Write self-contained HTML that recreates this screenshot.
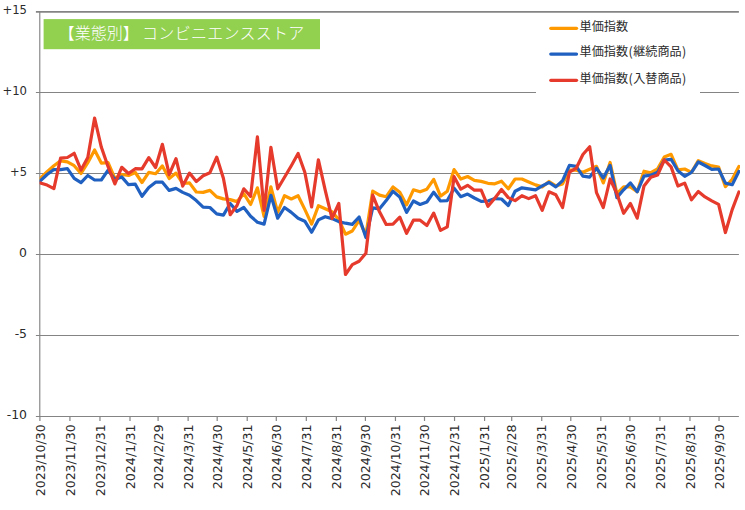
<!DOCTYPE html>
<html lang="ja"><head><meta charset="utf-8"><title>chart</title>
<style>html,body{margin:0;padding:0;background:#fff}svg{display:block}</style></head>
<body>
<svg width="745" height="510" viewBox="0 0 745 510">
<rect width="745" height="510" fill="#ffffff"/>
<line x1="35.9" y1="11.95" x2="738.9" y2="11.95" stroke="#848484" stroke-width="1.8"/>
<line x1="35.9" y1="92.55" x2="738.9" y2="92.55" stroke="#848484" stroke-width="1.05"/>
<line x1="35.9" y1="173.50" x2="738.9" y2="173.50" stroke="#848484" stroke-width="1.05"/>
<line x1="35.9" y1="254.50" x2="738.9" y2="254.50" stroke="#848484" stroke-width="1.05"/>
<line x1="35.9" y1="335.50" x2="738.9" y2="335.50" stroke="#848484" stroke-width="1.05"/>
<line x1="35.9" y1="416.50" x2="738.9" y2="416.50" stroke="#848484" stroke-width="1.05"/>
<line x1="39.78" y1="11.95" x2="39.78" y2="416.5" stroke="#848484" stroke-width="1.15"/>
<line x1="39.90" y1="416.5" x2="39.90" y2="421.0" stroke="#848484" stroke-width="1.2"/>
<text transform="translate(44.60,424.40) rotate(-90)" text-anchor="end" font-family='"DejaVu Sans","Liberation Sans",sans-serif' font-size="13" fill="#2b2b2b" textLength="71.8" lengthAdjust="spacingAndGlyphs">2023/10/30</text>
<line x1="69.93" y1="416.5" x2="69.93" y2="421.0" stroke="#848484" stroke-width="1.2"/>
<text transform="translate(74.63,424.40) rotate(-90)" text-anchor="end" font-family='"DejaVu Sans","Liberation Sans",sans-serif' font-size="13" fill="#2b2b2b" textLength="71.8" lengthAdjust="spacingAndGlyphs">2023/11/30</text>
<line x1="99.97" y1="416.5" x2="99.97" y2="421.0" stroke="#848484" stroke-width="1.2"/>
<text transform="translate(104.67,424.40) rotate(-90)" text-anchor="end" font-family='"DejaVu Sans","Liberation Sans",sans-serif' font-size="13" fill="#2b2b2b" textLength="71.8" lengthAdjust="spacingAndGlyphs">2023/12/31</text>
<line x1="130.00" y1="416.5" x2="130.00" y2="421.0" stroke="#848484" stroke-width="1.2"/>
<text transform="translate(134.70,424.40) rotate(-90)" text-anchor="end" font-family='"DejaVu Sans","Liberation Sans",sans-serif' font-size="13" fill="#2b2b2b" textLength="64.9" lengthAdjust="spacingAndGlyphs">2024/1/31</text>
<line x1="158.09" y1="416.5" x2="158.09" y2="421.0" stroke="#848484" stroke-width="1.2"/>
<text transform="translate(162.79,424.40) rotate(-90)" text-anchor="end" font-family='"DejaVu Sans","Liberation Sans",sans-serif' font-size="13" fill="#2b2b2b" textLength="64.9" lengthAdjust="spacingAndGlyphs">2024/2/29</text>
<line x1="188.13" y1="416.5" x2="188.13" y2="421.0" stroke="#848484" stroke-width="1.2"/>
<text transform="translate(192.83,424.40) rotate(-90)" text-anchor="end" font-family='"DejaVu Sans","Liberation Sans",sans-serif' font-size="13" fill="#2b2b2b" textLength="64.9" lengthAdjust="spacingAndGlyphs">2024/3/31</text>
<line x1="217.19" y1="416.5" x2="217.19" y2="421.0" stroke="#848484" stroke-width="1.2"/>
<text transform="translate(221.89,424.40) rotate(-90)" text-anchor="end" font-family='"DejaVu Sans","Liberation Sans",sans-serif' font-size="13" fill="#2b2b2b" textLength="64.9" lengthAdjust="spacingAndGlyphs">2024/4/30</text>
<line x1="247.22" y1="416.5" x2="247.22" y2="421.0" stroke="#848484" stroke-width="1.2"/>
<text transform="translate(251.92,424.40) rotate(-90)" text-anchor="end" font-family='"DejaVu Sans","Liberation Sans",sans-serif' font-size="13" fill="#2b2b2b" textLength="64.9" lengthAdjust="spacingAndGlyphs">2024/5/31</text>
<line x1="276.29" y1="416.5" x2="276.29" y2="421.0" stroke="#848484" stroke-width="1.2"/>
<text transform="translate(280.99,424.40) rotate(-90)" text-anchor="end" font-family='"DejaVu Sans","Liberation Sans",sans-serif' font-size="13" fill="#2b2b2b" textLength="64.9" lengthAdjust="spacingAndGlyphs">2024/6/30</text>
<line x1="306.32" y1="416.5" x2="306.32" y2="421.0" stroke="#848484" stroke-width="1.2"/>
<text transform="translate(311.02,424.40) rotate(-90)" text-anchor="end" font-family='"DejaVu Sans","Liberation Sans",sans-serif' font-size="13" fill="#2b2b2b" textLength="64.9" lengthAdjust="spacingAndGlyphs">2024/7/31</text>
<line x1="336.35" y1="416.5" x2="336.35" y2="421.0" stroke="#848484" stroke-width="1.2"/>
<text transform="translate(341.05,424.40) rotate(-90)" text-anchor="end" font-family='"DejaVu Sans","Liberation Sans",sans-serif' font-size="13" fill="#2b2b2b" textLength="64.9" lengthAdjust="spacingAndGlyphs">2024/8/31</text>
<line x1="365.42" y1="416.5" x2="365.42" y2="421.0" stroke="#848484" stroke-width="1.2"/>
<text transform="translate(370.12,424.40) rotate(-90)" text-anchor="end" font-family='"DejaVu Sans","Liberation Sans",sans-serif' font-size="13" fill="#2b2b2b" textLength="64.9" lengthAdjust="spacingAndGlyphs">2024/9/30</text>
<line x1="395.45" y1="416.5" x2="395.45" y2="421.0" stroke="#848484" stroke-width="1.2"/>
<text transform="translate(400.15,424.40) rotate(-90)" text-anchor="end" font-family='"DejaVu Sans","Liberation Sans",sans-serif' font-size="13" fill="#2b2b2b" textLength="71.8" lengthAdjust="spacingAndGlyphs">2024/10/31</text>
<line x1="424.51" y1="416.5" x2="424.51" y2="421.0" stroke="#848484" stroke-width="1.2"/>
<text transform="translate(429.21,424.40) rotate(-90)" text-anchor="end" font-family='"DejaVu Sans","Liberation Sans",sans-serif' font-size="13" fill="#2b2b2b" textLength="71.8" lengthAdjust="spacingAndGlyphs">2024/11/30</text>
<line x1="454.55" y1="416.5" x2="454.55" y2="421.0" stroke="#848484" stroke-width="1.2"/>
<text transform="translate(459.25,424.40) rotate(-90)" text-anchor="end" font-family='"DejaVu Sans","Liberation Sans",sans-serif' font-size="13" fill="#2b2b2b" textLength="71.8" lengthAdjust="spacingAndGlyphs">2024/12/31</text>
<line x1="484.58" y1="416.5" x2="484.58" y2="421.0" stroke="#848484" stroke-width="1.2"/>
<text transform="translate(489.28,424.40) rotate(-90)" text-anchor="end" font-family='"DejaVu Sans","Liberation Sans",sans-serif' font-size="13" fill="#2b2b2b" textLength="64.9" lengthAdjust="spacingAndGlyphs">2025/1/31</text>
<line x1="511.71" y1="416.5" x2="511.71" y2="421.0" stroke="#848484" stroke-width="1.2"/>
<text transform="translate(516.41,424.40) rotate(-90)" text-anchor="end" font-family='"DejaVu Sans","Liberation Sans",sans-serif' font-size="13" fill="#2b2b2b" textLength="64.9" lengthAdjust="spacingAndGlyphs">2025/2/28</text>
<line x1="541.74" y1="416.5" x2="541.74" y2="421.0" stroke="#848484" stroke-width="1.2"/>
<text transform="translate(546.44,424.40) rotate(-90)" text-anchor="end" font-family='"DejaVu Sans","Liberation Sans",sans-serif' font-size="13" fill="#2b2b2b" textLength="64.9" lengthAdjust="spacingAndGlyphs">2025/3/31</text>
<line x1="570.80" y1="416.5" x2="570.80" y2="421.0" stroke="#848484" stroke-width="1.2"/>
<text transform="translate(575.50,424.40) rotate(-90)" text-anchor="end" font-family='"DejaVu Sans","Liberation Sans",sans-serif' font-size="13" fill="#2b2b2b" textLength="64.9" lengthAdjust="spacingAndGlyphs">2025/4/30</text>
<line x1="600.84" y1="416.5" x2="600.84" y2="421.0" stroke="#848484" stroke-width="1.2"/>
<text transform="translate(605.54,424.40) rotate(-90)" text-anchor="end" font-family='"DejaVu Sans","Liberation Sans",sans-serif' font-size="13" fill="#2b2b2b" textLength="64.9" lengthAdjust="spacingAndGlyphs">2025/5/31</text>
<line x1="629.90" y1="416.5" x2="629.90" y2="421.0" stroke="#848484" stroke-width="1.2"/>
<text transform="translate(634.60,424.40) rotate(-90)" text-anchor="end" font-family='"DejaVu Sans","Liberation Sans",sans-serif' font-size="13" fill="#2b2b2b" textLength="64.9" lengthAdjust="spacingAndGlyphs">2025/6/30</text>
<line x1="659.93" y1="416.5" x2="659.93" y2="421.0" stroke="#848484" stroke-width="1.2"/>
<text transform="translate(664.63,424.40) rotate(-90)" text-anchor="end" font-family='"DejaVu Sans","Liberation Sans",sans-serif' font-size="13" fill="#2b2b2b" textLength="64.9" lengthAdjust="spacingAndGlyphs">2025/7/31</text>
<line x1="689.96" y1="416.5" x2="689.96" y2="421.0" stroke="#848484" stroke-width="1.2"/>
<text transform="translate(694.66,424.40) rotate(-90)" text-anchor="end" font-family='"DejaVu Sans","Liberation Sans",sans-serif' font-size="13" fill="#2b2b2b" textLength="64.9" lengthAdjust="spacingAndGlyphs">2025/8/31</text>
<line x1="719.03" y1="416.5" x2="719.03" y2="421.0" stroke="#848484" stroke-width="1.2"/>
<text transform="translate(723.73,424.40) rotate(-90)" text-anchor="end" font-family='"DejaVu Sans","Liberation Sans",sans-serif' font-size="13" fill="#2b2b2b" textLength="64.9" lengthAdjust="spacingAndGlyphs">2025/9/30</text>
<text x="27" y="14.15" text-anchor="end" font-family='"DejaVu Sans","Liberation Sans",sans-serif' font-size="12.4" fill="#2b2b2b" textLength="24.6" lengthAdjust="spacingAndGlyphs">+15</text>
<text x="27" y="94.75" text-anchor="end" font-family='"DejaVu Sans","Liberation Sans",sans-serif' font-size="12.4" fill="#2b2b2b" textLength="24.6" lengthAdjust="spacingAndGlyphs">+10</text>
<text x="27" y="175.70" text-anchor="end" font-family='"DejaVu Sans","Liberation Sans",sans-serif' font-size="12.4" fill="#2b2b2b" textLength="16.9" lengthAdjust="spacingAndGlyphs">+5</text>
<text x="27" y="256.70" text-anchor="end" font-family='"DejaVu Sans","Liberation Sans",sans-serif' font-size="12.4" fill="#2b2b2b">0</text>
<text x="27" y="337.70" text-anchor="end" font-family='"DejaVu Sans","Liberation Sans",sans-serif' font-size="12.4" fill="#2b2b2b">-5</text>
<text x="27" y="418.70" text-anchor="end" font-family='"DejaVu Sans","Liberation Sans",sans-serif' font-size="12.4" fill="#2b2b2b">-10</text>
<clipPath id="pc"><rect x="39.6" y="12" width="700.4" height="404"/></clipPath>
<polyline clip-path="url(#pc)" points="40.3,178.3 47.1,171.6 53.9,165.7 60.6,160.8 67.4,161.8 74.2,165.7 81.0,173.5 87.8,162.7 94.6,150.0 101.3,163.1 108.1,162.7 114.9,178.4 121.7,174.5 128.5,175.5 135.3,172.5 142.0,182.5 148.8,172.4 155.6,173.7 162.4,165.9 169.2,178.6 176.0,173.1 182.7,183.5 189.5,182.9 196.3,192.0 203.1,192.4 209.9,190.4 216.7,196.9 223.4,198.9 230.2,199.6 237.0,201.6 243.8,193.7 250.6,204.5 257.4,187.8 264.1,216.3 270.9,186.9 277.7,212.4 284.5,195.7 291.3,199.0 298.1,195.7 304.8,209.4 311.6,224.1 318.4,205.7 325.2,208.8 332.0,211.8 338.8,219.6 345.5,234.2 352.3,231.0 359.1,220.4 365.9,235.0 372.7,191.2 379.5,195.1 386.2,196.7 393.0,186.9 399.8,192.2 406.6,204.9 413.4,189.8 420.1,191.8 426.9,189.2 433.7,179.4 440.5,196.1 447.3,191.2 454.1,169.6 460.8,179.0 467.6,176.5 474.4,180.4 481.2,181.4 488.0,183.3 494.8,183.8 501.5,181.2 508.3,188.8 515.1,179.0 521.9,179.0 528.7,182.0 535.5,184.9 542.2,186.9 549.0,181.5 555.8,185.9 562.6,183.9 569.4,170.2 576.2,170.2 582.9,172.2 589.7,169.2 596.5,166.3 603.3,182.9 610.1,162.4 616.9,193.7 623.6,186.9 630.4,186.9 637.2,191.8 644.0,171.2 650.8,172.7 657.6,168.8 664.3,157.1 671.1,154.3 677.9,169.8 684.7,169.0 691.5,172.4 698.3,160.6 705.0,163.5 711.8,165.9 718.6,167.1 725.4,186.7 732.2,179.2 738.9,166.5" fill="none" stroke="#FF9900" stroke-width="3.2" stroke-linejoin="round" stroke-linecap="round"/>
<polyline clip-path="url(#pc)" points="40.3,180.9 47.1,174.5 53.9,169.5 60.6,169.6 67.4,168.6 74.2,178.4 81.0,182.7 87.8,175.5 94.6,180.0 101.3,180.0 108.1,170.2 114.9,179.4 121.7,176.9 128.5,184.7 135.3,184.2 142.0,196.3 148.8,187.5 155.6,182.2 162.4,182.2 169.2,190.4 176.0,188.4 182.7,192.4 189.5,195.3 196.3,200.6 203.1,207.1 209.9,207.5 216.7,213.9 223.4,215.1 230.2,203.5 237.0,211.4 243.8,207.5 250.6,216.3 257.4,222.2 264.1,224.1 270.9,195.3 277.7,218.2 284.5,207.5 291.3,212.4 298.1,218.2 304.8,221.2 311.6,232.2 318.4,219.9 325.2,216.7 332.0,218.6 338.8,221.6 345.5,223.2 352.3,224.3 359.1,217.0 365.9,237.6 372.7,207.8 379.5,208.8 386.2,200.6 393.0,191.2 399.8,197.1 406.6,212.4 413.4,201.0 420.1,204.5 426.9,202.0 433.7,192.2 440.5,201.0 447.3,200.6 454.1,188.2 460.8,196.7 467.6,194.1 474.4,198.0 481.2,201.4 488.0,201.0 494.8,198.6 501.5,199.0 508.3,205.5 515.1,191.2 521.9,187.8 528.7,188.8 535.5,189.8 542.2,185.9 549.0,182.5 555.8,186.9 562.6,180.6 569.4,165.3 576.2,166.3 582.9,176.1 589.7,177.1 596.5,168.2 603.3,178.0 610.1,165.3 616.9,197.6 623.6,189.8 630.4,182.9 637.2,191.8 644.0,176.1 650.8,175.2 657.6,172.3 664.3,160.0 671.1,159.3 677.9,170.8 684.7,176.3 691.5,172.4 698.3,162.0 705.0,165.5 711.8,169.4 718.6,169.0 725.4,183.1 732.2,184.7 738.9,171.4" fill="none" stroke="#2060C0" stroke-width="3.2" stroke-linejoin="round" stroke-linecap="round"/>
<polyline clip-path="url(#pc)" points="40.3,182.9 47.1,185.1 53.9,188.6 60.6,158.2 67.4,157.5 74.2,153.3 81.0,170.0 87.8,157.5 94.6,118.0 101.3,147.1 108.1,166.7 114.9,183.9 121.7,167.3 128.5,173.5 135.3,168.7 142.0,168.8 148.8,157.6 155.6,167.5 162.4,144.3 169.2,174.7 176.0,158.6 182.7,186.1 189.5,173.1 196.3,181.6 203.1,175.7 209.9,172.7 216.7,157.1 223.4,178.3 230.2,214.7 237.0,205.5 243.8,188.8 250.6,196.4 257.4,136.9 264.1,210.4 270.9,147.3 277.7,188.8 284.5,177.3 291.3,165.7 298.1,153.5 304.8,172.2 311.6,207.0 318.4,159.8 325.2,190.2 332.0,218.5 338.8,203.5 345.5,274.5 352.3,264.6 359.1,261.2 365.9,253.3 372.7,195.1 379.5,211.8 386.2,224.5 393.0,224.1 399.8,217.2 406.6,233.3 413.4,220.2 420.1,220.2 426.9,225.5 433.7,213.1 440.5,230.4 447.3,226.9 454.1,176.7 460.8,189.2 467.6,185.3 474.4,190.2 481.2,190.2 488.0,206.3 494.8,198.3 501.5,189.5 508.3,197.6 515.1,200.6 521.9,195.7 528.7,198.6 535.5,195.7 542.2,210.4 549.0,191.8 555.8,194.7 562.6,207.5 569.4,172.2 576.2,168.2 582.9,154.5 589.7,146.7 596.5,192.7 603.3,207.5 610.1,179.0 616.9,193.7 623.6,213.3 630.4,203.5 637.2,218.2 644.0,185.9 650.8,177.2 657.6,175.0 664.3,160.0 671.1,166.9 677.9,186.0 684.7,183.1 691.5,199.8 698.3,191.4 705.0,196.9 711.8,200.8 718.6,204.3 725.4,232.5 732.2,209.6 738.9,192.0" fill="none" stroke="#E53A2C" stroke-width="3.2" stroke-linejoin="round" stroke-linecap="round"/>
<rect x="43.6" y="19.1" width="276.4" height="30.1" fill="#92D050"/>
<text x="58.8" y="38.5" font-family='"Liberation Sans","Noto Sans CJK JP",sans-serif' font-size="16" font-weight="300" fill="#ffffff">【業態別】</text>
<text x="142.1" y="38.5" letter-spacing="0.27" font-family='"Liberation Sans","Noto Sans CJK JP",sans-serif' font-size="16" font-weight="300" fill="#ffffff">コンビニエンスストア</text>
<rect x="536" y="14" width="164" height="80" fill="#ffffff"/>
<line x1="550.8" y1="28.3" x2="576.5" y2="28.3" stroke="#FF9900" stroke-width="3.3" stroke-linecap="round"/>
<text y="30.6" font-family='"Liberation Sans","Noto Sans CJK JP",sans-serif' font-size="12.1" fill="#2b2b2b"><tspan x="579.6">単価指数</tspan></text>
<line x1="550.8" y1="54.1" x2="576.5" y2="54.1" stroke="#2060C0" stroke-width="3.3" stroke-linecap="round"/>
<text y="56.4" font-family='"Liberation Sans","Noto Sans CJK JP",sans-serif' font-size="12.1" fill="#2b2b2b"><tspan x="579.6">単価指数</tspan><tspan x="628.4" font-family='"Noto Sans CJK JP","Liberation Sans",sans-serif' font-size="12.6">(</tspan><tspan x="633.2">継続商品</tspan><tspan x="682.0" font-family='"Noto Sans CJK JP","Liberation Sans",sans-serif' font-size="12.6">)</tspan></text>
<line x1="550.8" y1="80.3" x2="576.5" y2="80.3" stroke="#E53A2C" stroke-width="3.3" stroke-linecap="round"/>
<text y="82.6" font-family='"Liberation Sans","Noto Sans CJK JP",sans-serif' font-size="12.1" fill="#2b2b2b"><tspan x="579.6">単価指数</tspan><tspan x="628.4" font-family='"Noto Sans CJK JP","Liberation Sans",sans-serif' font-size="12.6">(</tspan><tspan x="633.2">入替商品</tspan><tspan x="682.0" font-family='"Noto Sans CJK JP","Liberation Sans",sans-serif' font-size="12.6">)</tspan></text>
</svg>
</body></html>
